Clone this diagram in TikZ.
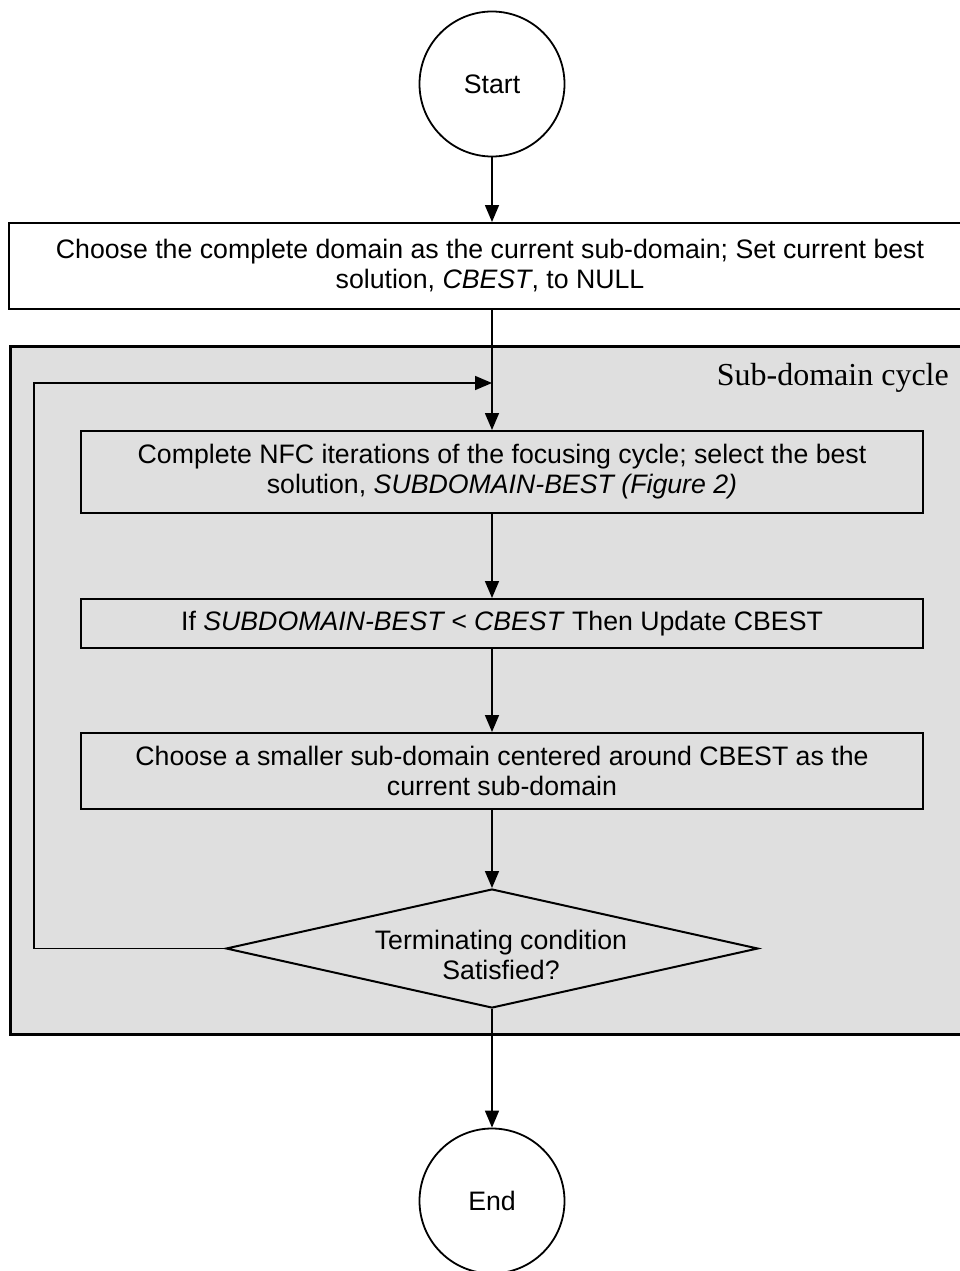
\documentclass[tikz,border=0pt]{standalone}
\usepackage{fontspec}
\setmainfont{Liberation Sans}
\newfontfamily\timesf{Liberation Serif}
\usetikzlibrary{arrows.meta,shapes.geometric}
\definecolor{framegray}{RGB}{223,223,223}
\begin{document}
\begin{tikzpicture}[x=1pt,y=-1pt,
  every node/.style={font=\fontsize{26.7}{30}\selectfont},
  procbox/.style={draw,line width=2pt,align=center,inner sep=0pt},
  term/.style={draw,circle,line width=1.8pt,fill=white,minimum size=145pt,inner sep=0pt},
  conn/.style={line width=1.6pt,-{Triangle[length=17pt,width=14pt]}},
  ]
\useasboundingbox (0,0) rectangle (960,1271);
\clip (0,0) rectangle (960,1271);
% frame of the sub-domain cycle
\node[draw,line width=2.8pt,fill=framegray,minimum width=966pt,minimum height=688pt,inner sep=0pt,anchor=north west] (frame) at (9,345) {};
\node[font=\timesf\fontsize{32}{36}\selectfont,anchor=base east,inner sep=0pt] (cyclelabel) at (949,385) {Sub-domain cycle};

\node[term] (start) at (492,84) {Start};
\node[procbox,fill=white,minimum width=962pt,minimum height=86pt] (b1) at (490,266)
  {Choose the complete domain as the current sub-domain; Set current best\\ solution, \textit{CBEST}, to NULL};
\node[procbox,minimum width=842pt,minimum height=82pt] (b2) at (502,472)
  {Complete NFC iterations of the focusing cycle; select the best\\ solution, \textit{SUBDOMAIN-BEST (Figure 2)}};
\node[procbox,minimum width=842pt,minimum height=49pt] (b3) at (502,623.5)
  {If \textit{SUBDOMAIN-BEST < CBEST} Then Update CBEST};
\node[procbox,minimum width=842pt,minimum height=76pt] (b4) at (502,771)
  {Choose a smaller sub-domain centered around CBEST as the\\ current sub-domain};
\node[draw,diamond,line width=2pt,minimum width=532pt,minimum height=119pt,inner sep=0pt] (dia) at (492,948.5) {};
\node[align=center,inner sep=0pt] (diatext) at (501,955) {Terminating condition\\ Satisfied?};
\node[term] (end) at (492,1201) {End};

\coordinate (j) at (492,383);
\coordinate (lc) at (34,383);

\draw[conn] (start) -- (start |- b1.north);
\draw[conn] (j |- b1.south) -- (j |- b2.north);
\draw[conn] (j |- b2.south) -- (j |- b3.north);
\draw[conn] (j |- b3.south) -- (j |- b4.north);
\draw[conn] (j |- b4.south) -- (dia.north);
\draw[conn] (dia.south) -- (end.north);
\draw[conn] (dia.west) -| (lc) -- (j);
\end{tikzpicture}
\end{document}
